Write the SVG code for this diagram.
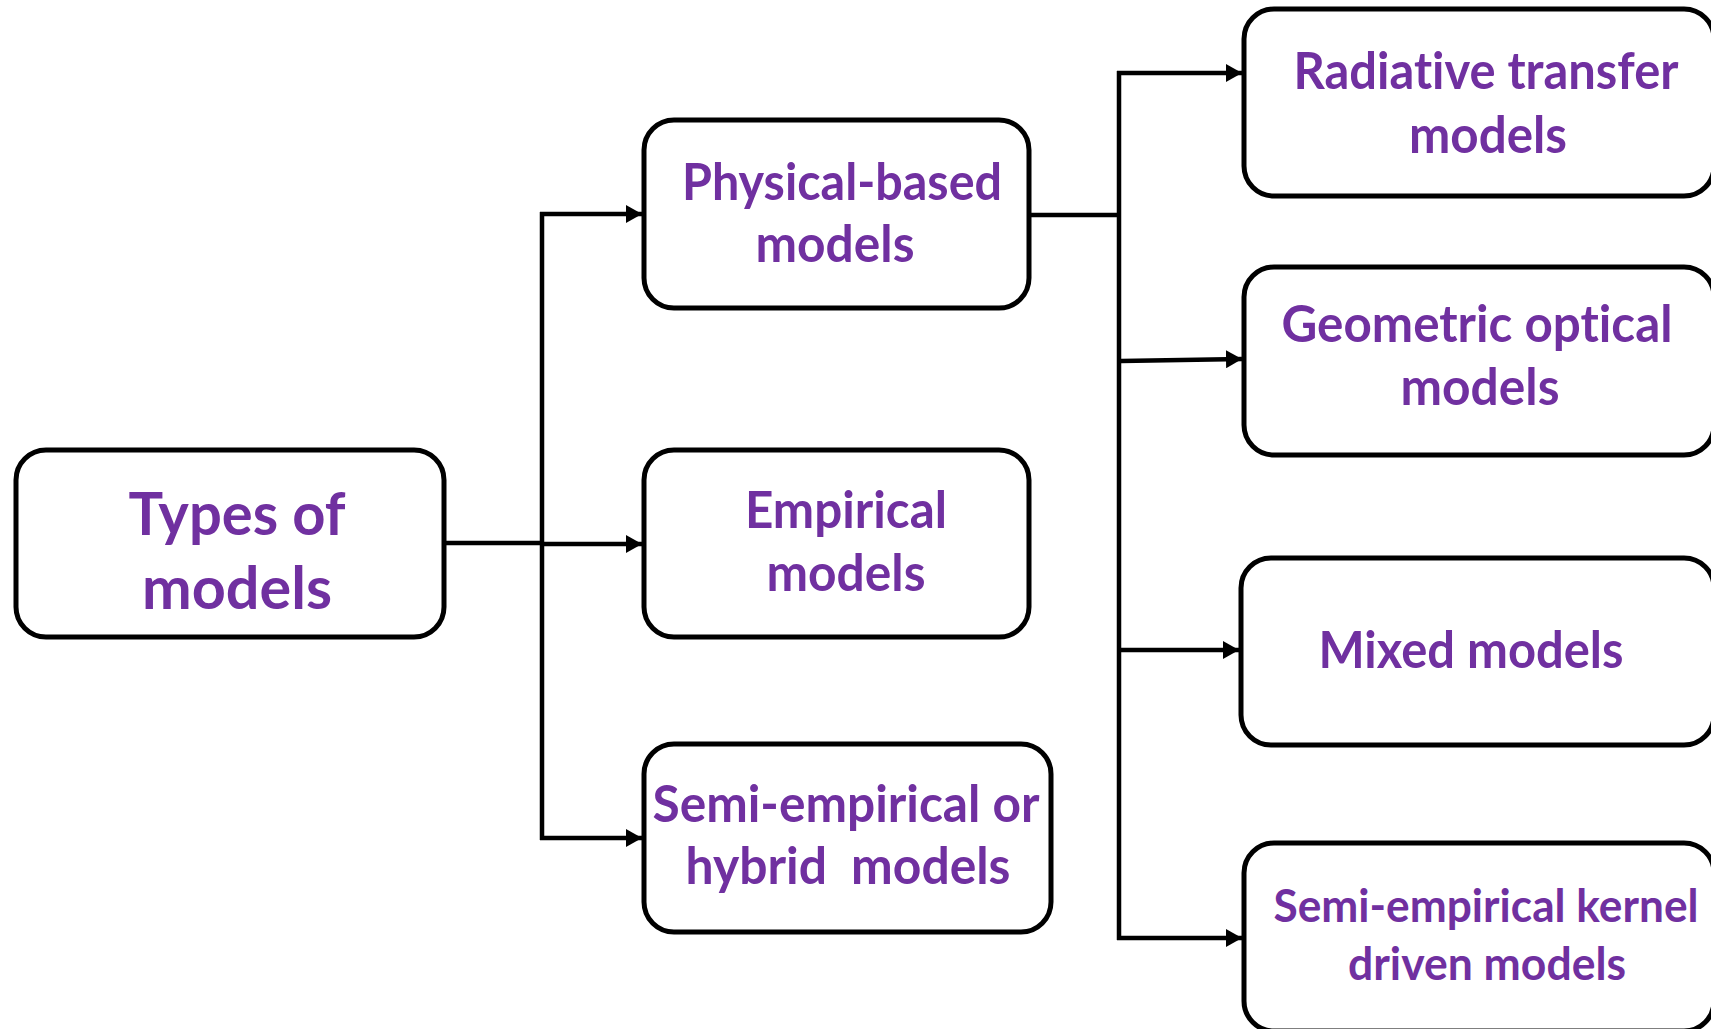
<svg xmlns="http://www.w3.org/2000/svg" width="1711" height="1029" viewBox="0 0 1711 1029">
  <style>
    .box { fill: #ffffff; stroke: #000000; stroke-width: 5; }
    .lbl { font-family: "Lato", "Open Sans", "Liberation Sans", sans-serif; font-weight: bold; fill: #7030A0; text-anchor: middle; font-variant-ligatures: none; }
    .big { font-size: 60px; }
    .mid { font-size: 51px; }
    .sm { font-size: 45px; }
    .wire { fill: none; stroke: #000000; stroke-width: 4.5; }
  </style>
  <defs>
    <marker id="arrow" markerUnits="userSpaceOnUse" markerWidth="17" markerHeight="18" refX="16" refY="9" orient="auto">
      <path d="M0,0 L16,9 L0,18 z" fill="#000000"/>
    </marker>
  </defs>
  <rect width="1711" height="1029" fill="#ffffff"/>

  <!-- connectors -->
  <g id="connectors">
    <!-- root to first level -->
    <path class="wire" d="M444,543 H542"/>
    <path class="wire" d="M542,212 V840"/>
    <path class="wire" d="M540,214 H642" marker-end="url(#arrow)"/>
    <path class="wire" d="M542,544 H642" marker-end="url(#arrow)"/>
    <path class="wire" d="M540,838 H642" marker-end="url(#arrow)"/>
    <!-- physical-based to second level -->
    <path class="wire" d="M1029,215 H1121"/>
    <path class="wire" d="M1119,71 V940"/>
    <path class="wire" d="M1117,73 H1242" marker-end="url(#arrow)"/>
    <path class="wire" d="M1121,361 L1242,359" marker-end="url(#arrow)"/>
    <path class="wire" d="M1119,650 H1239" marker-end="url(#arrow)"/>
    <path class="wire" d="M1117,938 H1242" marker-end="url(#arrow)"/>
  </g>

  <g id="types">
    <rect class="box" x="16" y="450" width="428" height="187" rx="30"/>
    <text class="lbl big" x="237" y="535" textLength="217" lengthAdjust="spacingAndGlyphs">Types of</text>
    <text class="lbl big" x="237" y="609" textLength="190" lengthAdjust="spacingAndGlyphs">models</text>
  </g>

  <g id="physical">
    <rect class="box" x="644" y="120" width="385" height="188" rx="30"/>
    <text class="lbl mid" x="842" y="200" textLength="320" lengthAdjust="spacingAndGlyphs">Physical-based</text>
    <text class="lbl mid" x="835" y="262" textLength="159" lengthAdjust="spacingAndGlyphs">models</text>
  </g>

  <g id="empirical">
    <rect class="box" x="644" y="450" width="385" height="187" rx="30"/>
    <text class="lbl mid" x="846" y="528" textLength="202" lengthAdjust="spacingAndGlyphs">Empirical</text>
    <text class="lbl mid" x="846" y="591" textLength="159" lengthAdjust="spacingAndGlyphs">models</text>
  </g>

  <g id="semi-empirical">
    <rect class="box" x="644" y="744" width="407" height="188" rx="30"/>
    <text class="lbl mid" x="846" y="822" textLength="387" lengthAdjust="spacingAndGlyphs">Semi-empirical or</text>
    <text class="lbl mid" x="848" y="884" textLength="325" lengthAdjust="spacingAndGlyphs" xml:space="preserve">hybrid  models</text>
  </g>

  <g id="radiative">
    <rect class="box" x="1244" y="9" width="470" height="187" rx="30"/>
    <text class="lbl mid" x="1486" y="89" textLength="385" lengthAdjust="spacingAndGlyphs">Radiative transfer</text>
    <text class="lbl mid" x="1488" y="153" textLength="158" lengthAdjust="spacingAndGlyphs">models</text>
  </g>

  <g id="geometric">
    <rect class="box" x="1244" y="267" width="470" height="188" rx="30"/>
    <text class="lbl mid" x="1477" y="342" textLength="391" lengthAdjust="spacingAndGlyphs">Geometric optical</text>
    <text class="lbl mid" x="1480" y="405" textLength="159" lengthAdjust="spacingAndGlyphs">models</text>
  </g>

  <g id="mixed">
    <rect class="box" x="1241" y="558" width="473" height="187" rx="30"/>
    <text class="lbl mid" x="1471" y="668" textLength="305" lengthAdjust="spacingAndGlyphs">Mixed models</text>
  </g>

  <g id="kernel">
    <rect class="box" x="1244" y="843" width="470" height="188" rx="30"/>
    <text class="lbl sm" x="1486" y="922" textLength="425" lengthAdjust="spacingAndGlyphs">Semi-empirical kernel</text>
    <text class="lbl sm" x="1487" y="980" textLength="278" lengthAdjust="spacingAndGlyphs">driven models</text>
  </g>
</svg>
